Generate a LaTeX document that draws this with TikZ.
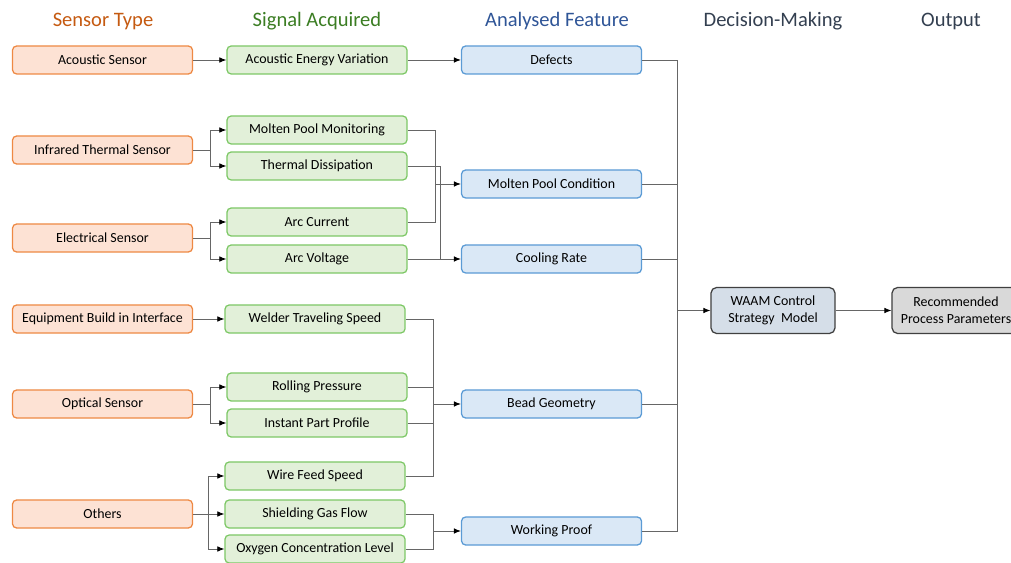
\documentclass[tikz,border=0pt]{standalone}
\usepackage{fontspec}
\setmainfont{Carlito}
\usepackage{xcolor}
\usetikzlibrary{arrows.meta,calc}
\definecolor{sensfill}{HTML}{FDE2D4}
\definecolor{sensdraw}{HTML}{EE8944}
\definecolor{sigfill}{HTML}{E2F0D9}
\definecolor{sigdraw}{HTML}{7DC866}
\definecolor{featfill}{HTML}{DAE8F6}
\definecolor{featdraw}{HTML}{5B9BD5}
\definecolor{decfill}{HTML}{D5DEE8}
\definecolor{outfill}{HTML}{D9D9D9}
\definecolor{hsens}{HTML}{C55A11}
\definecolor{hsig}{HTML}{3B7D23}
\definecolor{hfeat}{HTML}{2F5597}
\definecolor{hdec}{HTML}{333F50}

\begin{document}
\begin{tikzpicture}[x=0.025cm, y=-0.025cm,
  hdr/.style={font=\fontsize{14.6}{16}\selectfont},
  sens/.style={draw=sensdraw, fill=sensfill, line width=0.9pt, rounded corners=3pt,
               minimum width=4.5cm, minimum height=0.7cm, font=\fontsize{9.9}{11}\selectfont},
  sig/.style={sens, draw=sigdraw, fill=sigfill},
  feat/.style={sens, draw=featdraw, fill=featfill},
  dec/.style={draw=black!75, fill=decfill, line width=0.9pt, rounded corners=4pt,
              minimum width=3.1cm, minimum height=1.15cm, align=center,
              font=\fontsize{9.9}{12}\selectfont},
  outp/.style={dec, fill=outfill, minimum width=3.2cm},
  ln/.style={draw=black!60, line width=0.6pt},
  arr/.style={ln, -{Latex[length=5pt,width=4pt,color=black]}},
]
\useasboundingbox (0,0) rectangle (1011,563);

\node[hdr, text=hsens] (h1) at (103,21) {Sensor Type};
\node[hdr, text=hsig] (h2) at (317,21) {Signal Acquired};
\node[hdr, text=hfeat] (h3) at (557,21) {Analysed Feature};
\node[hdr, text=hdec] (h4) at (773,21) {Decision-Making};
\node[hdr, text=hdec] (h5) at (951,21) {Output};

\node[sens] (acs) at (102.5,60) {Acoustic Sensor};
\node[sens] (irs) at (102.5,150) {Infrared Thermal Sensor};
\node[sens] (els) at (102.5,238) {Electrical Sensor};
\node[sens] (ebi) at (102.5,319) {Equipment Build in Interface};
\node[sens] (ops) at (102.5,404) {Optical Sensor};
\node[sens] (oth) at (102.5,514) {Others};

\node[sig] (aev) at (317,60) {Acoustic Energy Variation};
\node[sig] (mpm) at (317,130) {Molten Pool Monitoring};
\node[sig] (tdi) at (317,166) {Thermal Dissipation};
\node[sig] (acu) at (317,222) {Arc Current};
\node[sig] (avo) at (317,259) {Arc Voltage};
\node[sig] (wts) at (315,319) {Welder Traveling Speed};
\node[sig] (rpr) at (317,387) {Rolling Pressure};
\node[sig] (ipp) at (317,423) {Instant Part Profile};
\node[sig] (wfs) at (315,476) {Wire Feed Speed};
\node[sig] (sgf) at (315,514) {Shielding Gas Flow};
\node[sig] (ocl) at (315,549) {Oxygen Concentration Level};

\node[feat] (def) at (551.5,60) {Defects};
\node[feat] (mpc) at (551.5,184) {Molten Pool Condition};
\node[feat] (cra) at (551.5,259) {Cooling Rate};
\node[feat] (bge) at (551.5,404) {Bead Geometry};
\node[feat] (wpr) at (551.5,531) {Working Proof};

\node[dec] (waam) at (773,310.5) {WAAM Control\\Strategy\ \ Model};
\node[outp] (rpp) at (956,310.5) {Recommended\\Process Parameters};

\coordinate (a1) at (210,150);
\coordinate (a2) at (210,238);
\coordinate (a3) at (210,404);
\coordinate (a4) at (208,514);
\coordinate (b1) at (435,184);
\coordinate (b2) at (440,259);
\coordinate (b3) at (433,404);
\coordinate (b4) at (433,531);
\coordinate (c1) at (677,310.5);

\draw[arr] (acs) -- (aev);
\draw[arr] (aev) -- (def);
\draw[arr] (ebi) -- (wts);
\draw[arr] (oth) -- (sgf);

\draw[ln] (irs.east) -- (a1);
\draw[arr] (a1) |- (mpm.west);
\draw[arr] (a1) |- (tdi.west);
\draw[ln] (els.east) -- (a2);
\draw[arr] (a2) |- (acu.west);
\draw[arr] (a2) |- (avo.west);
\draw[ln] (ops.east) -- (a3);
\draw[arr] (a3) |- (rpr.west);
\draw[arr] (a3) |- (ipp.west);
\draw[arr] (a4) |- (wfs.west);
\draw[arr] (a4) |- (ocl.west);

\draw[ln] (mpm.east) -| (b1);
\draw[ln] (acu.east) -| (b1);
\draw[ln] (tdi.east) -| (b2);
\draw[ln] (avo.east) -- (b2);
\draw[arr] (b1) -- (mpc.west);
\draw[arr] (b2) -- (cra.west);

\draw[ln] (wts.east) -| (b3);
\draw[ln] (rpr.east) -| (b3);
\draw[ln] (ipp.east) -| (b3);
\draw[ln] (wfs.east) -| (b3);
\draw[arr] (b3) -- (bge.west);
\draw[ln] (sgf.east) -| (b4);
\draw[ln] (ocl.east) -| (b4);
\draw[arr] (b4) -- (wpr.west);

\draw[ln] (def.east) -| (c1);
\draw[ln] (mpc.east) -| (c1);
\draw[ln] (cra.east) -| (c1);
\draw[ln] (bge.east) -| (c1);
\draw[ln] (wpr.east) -| (c1);
\draw[arr] (c1) -- (waam.west);
\draw[arr] (waam) -- (rpp);
\end{tikzpicture}
\end{document}
